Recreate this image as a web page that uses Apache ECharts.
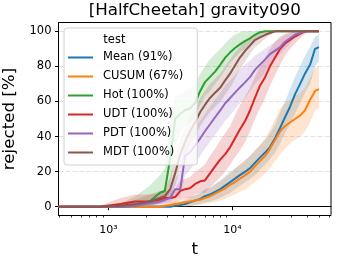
<!DOCTYPE html>
<html><head><meta charset="utf-8">
<script src="https://cdn.jsdelivr.net/npm/echarts@6/dist/echarts.min.js"></script>
<style>html,body{margin:0;padding:0;background:#fff}#c{width:339px;height:261px}</style>
</head><body><div id="c"></div>
<script>
const tValues = [395, 850, 1250, 1650, 2150, 2600, 2850, 3150, 3450, 3800, 4150, 4550, 5000, 5500, 6000, 6600, 7250, 8000, 8750, 9600, 10500, 11500, 12700, 13900, 15200, 16700, 18400, 20100, 22100, 24300, 26600, 29200, 32000, 35200, 38600, 42400, 46500, 50000];

const seriesNames = ['Mean (91%)', 'CUSUM (67%)', 'Hot (100%)', 'UDT (100%)', 'PDT (100%)', 'MDT (100%)'];
const seriesColors = ['#1f77b4', '#ff7f0e', '#2ca02c', '#d62728', '#9467bd', '#8c564b'];

const meanMid = [0,0,0,0,0,0,0,0,0.5,1,1.5,2.5,3.5,4.5,6,7,8.5,10,12,14,16,18,20,22,25,28,31,34,39,45,51,57,64,70,76,81,90,91];
const meanLo  = [0,0,0,0,0,0,0,0,0,0,0,0.5,1,1.5,2.5,3,4,5,6.5,8,10,12,14,16,18,21,24,27,31,36,42,47,53,59,65,70,80,83];
const meanHi  = [0,0,0,0,0.5,1,1,1.5,2,3,3.5,5,6.5,8,10,11,13,15,17.5,20,22,24,26.5,29,32,35,38,42,47,54,60,67,74,80,86,91,97,98];

const cusumMid = [0,0,0,0,0,0,0.5,1,1.5,2,2.5,3,3.5,4,5,6,7.5,9,10.5,12.5,14,16,18,20,23,26,29,33,38,43,46,48,50,52,55,61,66,67];
const cusumLo  = [0,0,0,0,0,0,0,0,0,0,0,0.5,1,1,1.5,2,3,3.5,4.5,6,7,8.5,10,12,14,16.5,19,22,26,30,33,36,38,40,43,48,55,56];
const cusumHi  = [0,0,0,0,0.5,1,2,2.5,3,4,5,6,6.5,7.5,9,10.5,12.5,14.5,16.5,19,21.5,24,26.5,29,32,35,39,44,50,56,59,61,63,65,68,74,79,80];

const hotMid = [0,0,0,0.5,3,8,9,28,50,53,55,56,59,66,71,74,77,81,85,88,90.5,92.5,94.5,96,98,99.5,100,100,100,100,100,100,100,100,100,100,100,100];
const hotLo  = [0,0,0,0,0,2,3,10,35,43,46,48,51,58,63,66,70,74,78,82,85,88,90,92,95,97,99,100,100,100,100,100,100,100,100,100,100,100];
const hotHi  = [0,0,2,6,12,18,22,50,63,64,66,67,70,76,80,84,87,90,93,96,98,99.5,100,100,100,100,100,100,100,100,100,100,100,100,100,100,100,100];

const udtMid = [0,0,1.5,3,3,4,5,5,5.5,9,10,10.5,13,14.5,15,19,23,27,30,34,39,44,49,55,62,69,74,80,85,90,93,95,97,98.5,100,100,100,100];
const udtLo  = [0,0,0,0.5,1,1.5,2,2,2.5,4,5,5,7,8,8,11,14,17,20,24,28,32,37,43,50,56,62,69,75,81,86,90,93,96,98.5,100,100,100];
const udtHi  = [0,0.5,5,7,7,8,9,9,10,15,16,17,20,22,24,29,33,38,42,46,52,58,63,68,74,80,85,90,94,97,98.5,99.5,100,100,100,100,100,100];

const pdtMid = [0,0,0,0.5,2,3,4,5,10,10,29,31,35,39,43,47,51,55,59,62,65,68,71,74,78,81,84,87,89,91,94,96,98,99,100,100,100,100];
const pdtLo  = [0,0,0,0,0,1,2,3,5,6,18,21,25,29,33,37,41,45,49,52,56,59,62,66,70,73,77,81,84,87,90,93,96,98,99.5,100,100,100];
const pdtHi  = [0,0,1,2,4,6,7,9,16,20,40,42,45,49,53,57,61,65,69,72,75,78,81,83,86,88,90,92,94,96,98,99,100,100,100,100,100,100];

const mdtMid = [0,0,0.5,1.5,3,5,6,10,19,30,37,43,48,54,58,62,65,68,72,76,80.5,85,89,92,95,96.5,98,99,100,100,100,100,100,100,100,100,100,100];
const mdtLo  = [0,0,0,0,0.5,2,3,5,12,22,29,35,40,46,50,54,57,60,64,68,73,78,83,87,91,93,96,98,99.5,100,100,100,100,100,100,100,100,100];
const mdtHi  = [0,0,2,4,7,9,10,17,28,38,45,51,56,62,66,70,73,76,80,84,88,91,94,97,98.5,99.5,100,100,100,100,100,100,100,100,100,100,100,100];

const xMajorTicks = [1000, 10000];
const xMinorTicks = [400,500,600,700,800,900,2000,3000,4000,5000,6000,7000,8000,9000,20000,30000,40000,50000,60000];
const yTicks = [0, 20, 40, 60, 80, 100];

const mids = [meanMid, cusumMid, hotMid, udtMid, pdtMid, mdtMid];
const lows = [meanLo, cusumLo, hotLo, udtLo, pdtLo, mdtLo];
const highs = [meanHi, cusumHi, hotHi, udtHi, pdtHi, mdtHi];

const FONT = 'DejaVu Sans';
const X_MIN = 395, X_MAX = 62500;

const series = [];
seriesNames.forEach((name, i) => {
  const color = seriesColors[i];
  series.push({
    type: 'custom', name: '_band' + i, silent: true, clip: true,
    encode: { x: 0, y: [1, 2] },
    data: tValues.map((t, k) => [t, lows[i][k], highs[i][k]]),
    renderItem: function (params, api) {
      if (params.dataIndex !== 0) return null;
      const pts = [];
      for (let k = 0; k < tValues.length; k++) pts.push(api.coord([tValues[k], highs[i][k]]));
      for (let k = tValues.length - 1; k >= 0; k--) pts.push(api.coord([tValues[k], lows[i][k]]));
      return { type: 'polygon', shape: { points: pts }, style: { fill: color, opacity: 0.2 } };
    }
  });
  series.push({
    type: 'line', name: name, symbol: 'none',
    lineStyle: { width: 2, color: color },
    itemStyle: { color: color },
    data: tValues.map((t, k) => [t, mids[i][k]])
  });
});

const sup = { '0': '⁰', '1': '¹', '2': '²', '3': '³', '4': '⁴', '5': '⁵' };

const chart = echarts.init(document.getElementById('c'), null, { renderer: 'canvas' });
chart.setOption({
  animation: false,
  backgroundColor: '#fff',
  textStyle: { fontFamily: FONT },
  grid: { left: 58.5, top: 22.5, width: 272.5, height: 193, show: true, borderColor: '#000', borderWidth: 1, containLabel: false, outerBoundsMode: 'none' },
  xAxis: [{
    type: 'log', logBase: 10, min: X_MIN, max: X_MAX,
    name: 't', nameLocation: 'middle', nameGap: 26,
    nameTextStyle: { fontFamily: FONT, fontSize: 16.7, color: '#000' },
    axisLine: { show: true, lineStyle: { color: '#000', width: 1 } },
    axisTick: { show: true, length: 3.5, lineStyle: { color: '#000', width: 1 }, customValues: xMajorTicks },
    axisLabel: { show: true, margin: 9, fontFamily: FONT, fontSize: 11, color: '#000', customValues: xMajorTicks, verticalAlign: 'top',
      formatter: v => '10' + String(Math.round(Math.log10(v))).split('').map(c => sup[c]).join('') },
    splitLine: { show: false },
    minorTick: { show: false }
  }, {
    type: 'log', logBase: 10, min: X_MIN, max: X_MAX, position: 'bottom', gridIndex: 0,
    axisLine: { show: false },
    axisTick: { show: true, length: 2, lineStyle: { color: '#000', width: 0.8 }, customValues: xMinorTicks },
    axisLabel: { show: false },
    splitLine: { show: false }
  }],
  yAxis: {
    type: 'value', min: -5, max: 105,
    name: 'rejected [%]', nameLocation: 'middle', nameGap: 38,
    nameTextStyle: { fontFamily: FONT, fontSize: 16.7, color: '#000' },
    axisLine: { show: true, lineStyle: { color: '#000', width: 1 } },
    axisTick: { show: true, length: 3.5, lineStyle: { color: '#000', width: 1 }, customValues: yTicks },
    axisLabel: { margin: 7, fontFamily: FONT, fontSize: 11.5, color: '#000', customValues: yTicks },
    splitLine: { show: true, lineStyle: { color: '#e3e3e3', width: 1.2, type: [5, 2] } }
  },
  legend: {
    data: seriesNames, orient: 'vertical', left: 64, top: 28, selectedMode: false,
    padding: [20, 14, 3, 4],
    icon: 'rect', itemWidth: 25, itemHeight: 2, itemGap: 0,
    textStyle: { fontFamily: FONT, fontSize: 11.5, color: '#000', lineHeight: 19, padding: [0, 0, 0, 5] },
    backgroundColor: 'rgba(255,255,255,0.8)', borderColor: '#d0d0d0', borderWidth: 1, borderRadius: 3
  },
  graphic: [
    { type: 'text', x: 194.75, y: 11, z: 100,
      style: { text: '[HalfCheetah] gravity090', font: '16.7px "DejaVu Sans"', fill: '#000', align: 'center', verticalAlign: 'middle', textAlign: 'center', textVerticalAlign: 'middle' } },
    { type: 'text', x: 103.3, y: 40, z: 100,
      style: { text: 'test', font: '11.5px "DejaVu Sans"', fill: '#000', align: 'left', verticalAlign: 'middle', textAlign: 'left', textVerticalAlign: 'middle' } }
  ],
  series: series
});
</script>
</body></html>
